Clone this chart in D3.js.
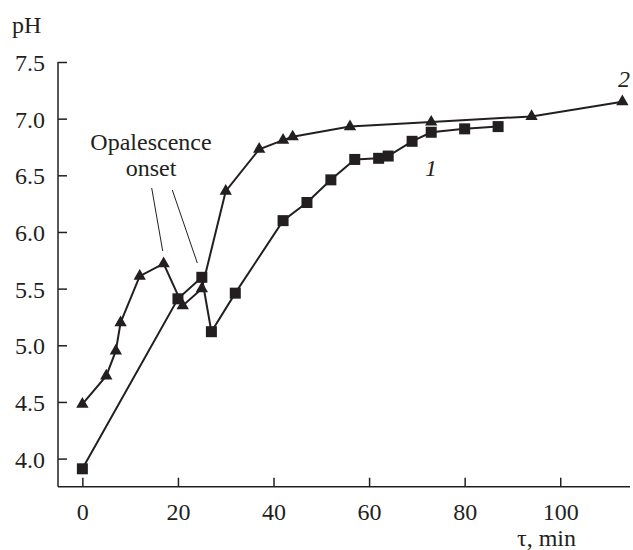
<!DOCTYPE html>
<html>
<head>
<meta charset="utf-8">
<script src="https://cdn.jsdelivr.net/npm/d3@7"></script>
<style>
	body { margin: 0; background: #fff; }
	svg text { font-family: "Liberation Serif", "DejaVu Serif", serif; fill: #231f20; }
</style>
</head>
<body>
<div id="chart"></div>
<script>
// curve 1 (squares)
const timeSquares = [0, 20, 25, 27, 32, 42, 47, 52, 57, 62, 64, 69, 73, 80, 87];
const phSquares = [3.91, 5.41, 5.60, 5.12, 5.46, 6.10, 6.26, 6.46, 6.64, 6.65, 6.67, 6.80, 6.88, 6.91, 6.93];
// curve 2 (triangles)
const timeTriangles = [0, 5, 7, 8, 12, 17, 21, 25, 30, 37, 42, 44, 56, 73, 94, 113];
const phTriangles = [4.48, 4.73, 4.95, 5.20, 5.61, 5.72, 5.35, 5.50, 6.36, 6.73, 6.81, 6.84, 6.93, 6.97, 7.02, 7.15];

const xTicks = [0, 20, 40, 60, 80, 100];
const yTicks = [4.0, 4.5, 5.0, 5.5, 6.0, 6.5, 7.0, 7.5];

const width = 633, height = 550;
const ink = "#231f20";

const svg = d3.select("#chart").append("svg")
	.attr("width", width)
	.attr("height", height);

const x = d3.scaleLinear().domain([-5.1, 114.6]).range([58, 630]);
const y = d3.scaleLinear().domain([3.752, 7.5]).range([486.7, 62]);

// Y axis (ticks point inward)
const yAxis = d3.axisRight(y).tickValues(yTicks).tickSize(9).tickFormat(d3.format(".1f"));
const yAxisG = svg.append("g")
	.attr("transform", "translate(" + x(-5.1) + ",0)")
	.call(yAxis);
yAxisG.select(".domain").attr("d", "M0," + y(7.5) + "V" + y(3.752));
yAxisG.selectAll("text")
	.attr("x", -13)
	.attr("dy", "0.35em")
	.attr("text-anchor", "end")
	.style("font-size", "24px");

// X axis (ticks point inward)
const xAxis = d3.axisTop(x).tickValues(xTicks).tickSize(9).tickFormat(d3.format("d"));
const xAxisG = svg.append("g")
	.attr("transform", "translate(0," + y(3.752) + ")")
	.call(xAxis);
xAxisG.select(".domain").attr("d", "M" + x(-5.1) + ",0H" + x(114.6));
xAxisG.selectAll("text")
	.attr("y", 33)
	.attr("dy", 0)
	.attr("text-anchor", "middle")
	.style("font-size", "24px");

svg.selectAll(".domain, .tick line")
	.attr("stroke", ink)
	.attr("stroke-width", 1.5);

// axis titles
svg.append("text").attr("x", 12).attr("y", 33).style("font-size", "24px").text("pH");
svg.append("text").attr("x", 576).attr("y", 546).attr("text-anchor", "end").style("font-size", "24px").text("τ, min");

const line = d3.line().x(d => x(d[0])).y(d => y(d[1]));

const sq = d3.zip(timeSquares, phSquares);
const tri = d3.zip(timeTriangles, phTriangles);

svg.append("path").datum(tri)
	.attr("d", line).attr("fill", "none").attr("stroke", ink).attr("stroke-width", 2);
svg.append("path").datum(sq)
	.attr("d", line).attr("fill", "none").attr("stroke", ink).attr("stroke-width", 2);

svg.selectAll(".sq").data(sq).enter().append("rect")
	.attr("x", d => x(d[0]) - 5.5)
	.attr("y", d => y(d[1]) - 5.5)
	.attr("width", 11).attr("height", 11)
	.attr("fill", ink);

const triSym = d3.symbol().type(d3.symbolTriangle).size(66);
svg.selectAll(".tri").data(tri).enter().append("path")
	.attr("transform", d => "translate(" + x(d[0]) + "," + y(d[1]) + ")")
	.attr("d", triSym)
	.attr("fill", ink);

// curve labels
svg.append("text").attr("x", 431).attr("y", 176).attr("text-anchor", "middle")
	.style("font-size", "24px").style("font-style", "italic").text("1");
svg.append("text").attr("x", 624).attr("y", 87).attr("text-anchor", "middle")
	.style("font-size", "24px").style("font-style", "italic").text("2");

// annotation
const note = svg.append("text").attr("text-anchor", "middle").style("font-size", "24px");
note.append("tspan").attr("x", 151).attr("y", 150).text("Opalescence");
note.append("tspan").attr("x", 151).attr("y", 176).text("onset");
svg.append("line").attr("x1", 151.7).attr("y1", 188).attr("x2", 162.7).attr("y2", 251)
	.attr("stroke", ink).attr("stroke-width", 1);
svg.append("line").attr("x1", 172.3).attr("y1", 190).attr("x2", 197.3).attr("y2", 263)
	.attr("stroke", ink).attr("stroke-width", 1);
</script>
</body>
</html>
